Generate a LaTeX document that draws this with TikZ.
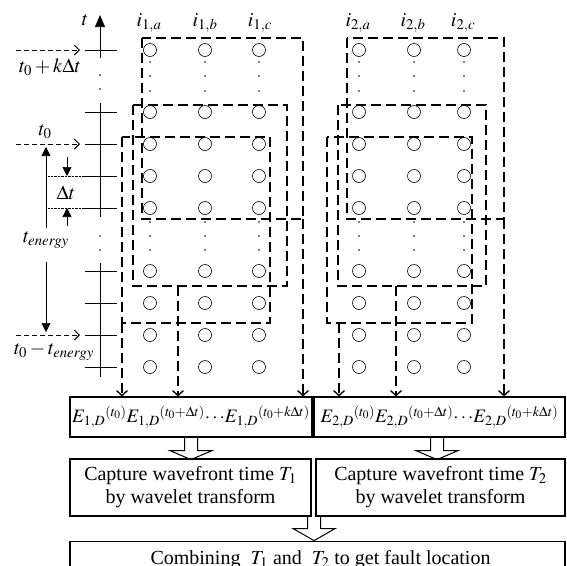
\documentclass[tikz,border=0pt]{standalone}
\usepackage{mathptmx}
\usepackage{fontspec}
\setmainfont{Liberation Serif}
\usetikzlibrary{arrows.meta}

\begin{document}
\begin{tikzpicture}[x=1pt,y=-1pt,
    win/.style={line width=1.3pt, dash pattern=on 10pt off 5pt},
    axtick/.style={line width=0.7pt},
    ring/.style={line width=0.6pt},
    pointer/.style={line width=1pt, dash pattern=on 5pt off 3pt, -{Straight Barb[length=5pt,width=10pt]}},
    feed/.style={win, -{Straight Barb[length=5pt,width=11pt]}},
    solidtip/.style={line width=0.7pt, -{Triangle[length=9pt,width=9pt]}},
    box/.style={draw, line width=1.2pt, inner sep=0pt, align=center, font=\fontsize{20}{23}\selectfont},
    ebox/.style={box, font=\fontsize{19}{22}\selectfont},
    lbl/.style={inner sep=0pt, font=\fontsize{20}{24}\selectfont}]
  \clip (0,0) rectangle (567,565);

  % samples of both ends
  \foreach \x in {150,205,259,359,414,464} {
    \foreach \y in {50,112,144,176,208,271,303,335,367}
      \draw[ring] (\x,\y) circle (6.5pt);
    \foreach \y in {62,76,91,222,236,250}
      \fill (\x,\y) circle (0.8pt);
  }
  \node[lbl] (h1a) at (149,23) {$i_{1,a}$};
  \node[lbl] (h1b) at (205,23) {$i_{1,b}$};
  \node[lbl] (h1c) at (260,23) {$i_{1,c}$};
  \node[lbl] (h2a) at (358,23) {$i_{2,a}$};
  \node[lbl] (h2b) at (413,23) {$i_{2,b}$};
  \node[lbl] (h2c) at (463,23) {$i_{2,c}$};

  % time axis
  \draw[line width=0.7pt, -{Triangle[length=12pt,width=10pt]}] (100,58) -- (100,15);
  \draw[axtick] (100,103) -- (100,217);
  \draw[axtick] (100,263) -- (100,377);
  \foreach \y in {75,89,236,250}
    \fill (100,\y) circle (0.8pt);
  \foreach \y in {50,112,144,176,208,271,303,335,367}
    \draw[axtick] (85,\y) -- (117,\y);
  \node[lbl] (tlab) at (85,20) {$t$};

  \coordinate (kt) at (80,50);
  \coordinate (zt) at (80,144);
  \coordinate (et) at (80,335);
  \draw[pointer] (kt) ++(-64,0) -- (kt);
  \draw[pointer] (zt) ++(-64,0) -- (zt);
  \draw[pointer] (et) ++(-64,0) -- (et);
  \node[lbl] (tk) at (50,67) {$t_0+k\Delta t$};
  \node[lbl] (tz) at (45,132) {$t_0$};
  \node[lbl] (tm) at (54,352) {$t_0-t_{energy}$};

  % step and window length
  \draw[densely dotted] (48,176) -- (85,176);
  \draw[densely dotted] (48,208) -- (85,208);
  \draw[solidtip] (67,157) -- (67,176);
  \draw[solidtip] (67,226) -- (67,208);
  \node[lbl] (dt) at (66,193) {$\Delta t$};
  \node[lbl] (te) at (46,240) {$t_{energy}$};
  \draw[solidtip] (46,228) -- (46,147);
  \draw[solidtip] (46,262) -- (46,332);

  % data windows, end 1
  \draw[win] (142,38) rectangle (303,219);
  \draw[win] (133,105) rectangle (287,286);
  \draw[win] (122,137) rectangle (270,323);
  % data windows, end 2
  \draw[win] (347,38) rectangle (504,219);
  \draw[win] (338,105) rectangle (486,286);
  \draw[win] (327,137) rectangle (472,323);

  \node[ebox, minimum width=242pt, minimum height=40pt] (E1) at (191,417)
    {$E_{1,D}{}^{(t_0)}E_{1,D}{}^{(t_0+\Delta t)}\mathord{\cdot}\,\mathord{\cdot}\,\mathord{\cdot}E_{1,D}{}^{(t_0+k\Delta t)}$};
  \node[ebox, minimum width=251pt, minimum height=40pt] (E2) at (439.5,417)
    {$E_{2,D}{}^{(t_0)}E_{2,D}{}^{(t_0+\Delta t)}\mathord{\cdot}\,\mathord{\cdot}\,\mathord{\cdot}E_{2,D}{}^{(t_0+k\Delta t)}$};
  \node[box, minimum width=241pt, minimum height=57pt] (cap1) at (190.5,487.5)
    {Capture wavefront time $T_1$\\by wavelet transform};
  \node[box, minimum width=249pt, minimum height=57pt] (cap2) at (440.5,487.5)
    {Capture wavefront time $T_2$\\by wavelet transform};
  \node[box, minimum width=495pt, minimum height=36pt, anchor=north] (comb) at (317.5,541)
    {\hspace*{6pt}Combining \ $T_1$ and \ $T_2$ to get fault location};

  \coordinate (a1) at (122,323);
  \coordinate (b1) at (178,286);
  \coordinate (c1) at (303,219);
  \coordinate (a2) at (339,323);
  \coordinate (b2) at (396,286);
  \coordinate (c2) at (504,219);
  \foreach \p in {a1,b1,c1}
    \draw[feed] (\p) -- (\p |- E1.north);
  \foreach \p in {a2,b2,c2}
    \draw[feed] (\p) -- (\p |- E2.north);

  % hollow arrows
  \draw[line width=1pt] (E1.south) ++(-6.5,0) -- ++(0,13) -- ++(-14.5,0) -- ++(21,9)
    -- ++(21,-9) -- ++(-14.5,0) -- ++(0,-13);
  \draw[line width=1pt] (E2.south -| 437,0) ++(-6.5,0) -- ++(0,13) -- ++(-14.5,0) -- ++(21,9)
    -- ++(21,-9) -- ++(-14.5,0) -- ++(0,-13);
  \draw[line width=1pt] (cap1.south east) ++(2.5,0) ++(-6.5,0) -- ++(0,12) -- ++(-14.5,0) -- ++(21,12)
    -- ++(21,-12) -- ++(-14.5,0) -- ++(0,-12);
\end{tikzpicture}
\end{document}
